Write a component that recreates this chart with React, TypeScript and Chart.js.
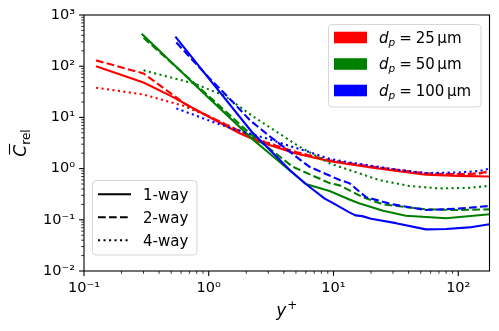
import React, { useEffect, useRef } from 'react';
import { Chart, registerables } from 'chart.js';
Chart.register(...registerables);

// ---- data ----
// d_p = 25 um
const r1X = [0.125, 0.3, 0.5, 1, 1.8, 2.5, 4.9, 9.3, 13.4, 20, 30, 55, 100, 178];
const r1Y = [100, 48, 26, 10.3, 4.8, 3.4, 2.0, 1.4, 1.22, 1.05, 0.92, 0.76, 0.72, 0.7];
const r2X = [0.125, 0.3, 0.45, 0.7, 1, 2.5, 5, 9.3, 20, 55, 100, 150, 178];
const r2Y = [130, 72, 35, 16, 10.5, 3.6, 2.1, 1.45, 1.1, 0.8, 0.78, 0.8, 0.92];
const r4X = [0.125, 0.3, 0.62, 1, 2.5, 5, 9.3, 20, 55, 100, 178];
const r4Y = [38, 28, 17, 10.5, 3.7, 2.1, 1.45, 1.08, 0.8, 0.76, 0.85];
// d_p = 50 um
const g1X = [0.29, 1, 2.29, 3.3, 6, 9.3, 13.4, 16, 25, 38, 80, 178];
const g1Y = [430, 24, 3.6, 1.7, 0.5, 0.365, 0.25, 0.21, 0.15, 0.12, 0.107, 0.128];
const g2X = [0.3, 1, 2.13, 4.7, 9.3, 11.2, 17, 25, 55, 100, 178];
const g2Y = [360, 26, 4.9, 1.09, 0.52, 0.47, 0.28, 0.2, 0.16, 0.155, 0.16];
const g4X = [0.3, 0.76, 1.32, 2.29, 5.3, 9.3, 13.4, 23, 40, 70, 120, 178];
const g4Y = [83, 46, 27, 10.3, 2.7, 1.27, 0.94, 0.6, 0.46, 0.41, 0.42, 0.46];
// d_p = 100 um
const b1X = [0.54, 1, 2.2, 4.5, 6, 8.5, 10, 13.4, 15, 17, 20, 31.7, 55, 80, 122, 178];
const b1Y = [377, 58, 5.3, 0.92, 0.5, 0.26, 0.21, 0.14, 0.122, 0.118, 0.105, 0.086, 0.065, 0.066, 0.071, 0.082];
const b2X = [0.55, 1, 1.56, 2.13, 3, 4.45, 6.4, 11.2, 13.4, 18.3, 30, 55, 100, 178];
const b2Y = [290, 60, 20, 8.9, 4.5, 2.14, 1.09, 0.6, 0.52, 0.275, 0.2, 0.155, 0.165, 0.186];
const b4X = [0.55, 1.15, 2.0, 2.9, 4.2, 6.4, 9.3, 13.4, 30, 55, 100, 150, 178];
const b4Y = [15, 7.7, 5.0, 3.9, 2.9, 2.1, 1.55, 1.32, 0.98, 0.82, 0.84, 0.9, 1.0];

const sizeLabels = ['25', '50', '100'];
const couplingLabels = ['1-way', '2-way', '4-way'];
const xTickPowers = [-1, 0, 1, 2];
const yTickPowers = [-2, -1, 0, 1, 2, 3];

const X_MIN = 0.1, X_MAX = 178, Y_MIN = 0.01, Y_MAX = 1000;

const COLORS = ['#ff0000', '#008000', '#0000ff'];
const DASHES: number[][] = [[], [7.7, 3.3], [2.1, 3.4]];
const FONT = '"DejaVu Sans", sans-serif';

const SUP: Record<string, string> = { '-': '⁻', '0': '⁰', '1': '¹', '2': '²', '3': '³' };
const powLabel = (p: number) => '10' + String(p).split('').map((c) => SUP[c]).join('');

const pts = (xs: number[], ys: number[]) => xs.map((x, i) => ({ x, y: ys[i] }));

const seriesTable = [
  { xs: b1X, ys: b1Y, c: 2, d: 0 },
  { xs: b2X, ys: b2Y, c: 2, d: 1 },
  { xs: b4X, ys: b4Y, c: 2, d: 2 },
  { xs: g1X, ys: g1Y, c: 1, d: 0 },
  { xs: g2X, ys: g2Y, c: 1, d: 1 },
  { xs: g4X, ys: g4Y, c: 1, d: 2 },
  { xs: r1X, ys: r1Y, c: 0, d: 0 },
  { xs: r2X, ys: r2Y, c: 0, d: 1 },
  { xs: r4X, ys: r4Y, c: 0, d: 2 },
];

function roundRect(ctx: CanvasRenderingContext2D, x: number, y: number, w: number, h: number, r: number) {
  ctx.beginPath();
  ctx.moveTo(x + r, y);
  ctx.lineTo(x + w - r, y);
  ctx.quadraticCurveTo(x + w, y, x + w, y + r);
  ctx.lineTo(x + w, y + h - r);
  ctx.quadraticCurveTo(x + w, y + h, x + w - r, y + h);
  ctx.lineTo(x + r, y + h);
  ctx.quadraticCurveTo(x, y + h, x, y + h - r);
  ctx.lineTo(x, y + r);
  ctx.quadraticCurveTo(x, y, x + r, y);
  ctx.closePath();
}

const decor = {
  id: 'decor',
  afterDraw(chart: any) {
    const { ctx, chartArea: a, scales } = chart;
    const xs = scales.x, ys = scales.y;
    ctx.save();
    ctx.setLineDash([]);
    // spines
    ctx.strokeStyle = '#000';
    ctx.lineWidth = 1.1;
    ctx.strokeRect(a.left, a.top, a.right - a.left, a.bottom - a.top);
    // ticks
    const drawTick = (x1: number, y1: number, x2: number, y2: number, w: number) => {
      ctx.lineWidth = w;
      ctx.beginPath();
      ctx.moveTo(x1, y1);
      ctx.lineTo(x2, y2);
      ctx.stroke();
    };
    for (let p = -1; p <= 2; p++) {
      for (let k = 1; k <= 9; k++) {
        const v = k * Math.pow(10, p);
        if (v < X_MIN - 1e-9 || v > X_MAX) continue;
        const px = xs.getPixelForValue(v);
        drawTick(px, a.bottom, px, a.bottom + (k === 1 ? 4.9 : 2.8), k === 1 ? 1.1 : 0.8);
      }
    }
    for (let p = -2; p <= 3; p++) {
      for (let k = 1; k <= 9; k++) {
        const v = k * Math.pow(10, p);
        if (v < Y_MIN - 1e-12 || v > Y_MAX + 1e-9) continue;
        const py = ys.getPixelForValue(v);
        drawTick(a.left, py, a.left - (k === 1 ? 4.9 : 2.8), py, k === 1 ? 1.1 : 0.8);
      }
    }

    // legend 1: particle sizes
    ctx.fillStyle = 'rgba(255,255,255,0.8)';
    roundRect(ctx, 328.5, 24.5, 152.5, 82.5, 3.5);
    ctx.fill();
    ctx.strokeStyle = '#d6d6d6';
    ctx.lineWidth = 1;
    ctx.stroke();
    const rowsY1 = [37.5, 64, 90.5];
    sizeLabels.forEach((lab, i) => {
      const cy = rowsY1[i];
      ctx.fillStyle = COLORS[i];
      ctx.fillRect(334, cy - 5.8, 33, 11.6);
      ctx.fillStyle = '#000';
      ctx.textBaseline = 'alphabetic';
      ctx.textAlign = 'left';
      let x = 379;
      const base = cy + 5.3;
      ctx.font = `italic 15px ${FONT}`;
      ctx.fillText('d', x, base);
      x += ctx.measureText('d').width;
      ctx.font = `italic 10.5px ${FONT}`;
      ctx.fillText('p', x, base + 3);
      x += ctx.measureText('p').width + 4;
      ctx.font = `15px ${FONT}`;
      ctx.fillText('=', x, base);
      x += ctx.measureText('=').width + 4;
      ctx.fillText(lab, x, base);
      x += ctx.measureText(lab).width + 2.5;
      ctx.fillText('μm', x, base);
    });

    // legend 2: coupling
    ctx.fillStyle = 'rgba(255,255,255,0.8)';
    roundRect(ctx, 92.5, 180.5, 104.5, 74.5, 3.5);
    ctx.fill();
    ctx.strokeStyle = '#d6d6d6';
    ctx.lineWidth = 1;
    ctx.stroke();
    const rowsY2 = [194.3, 217.3, 240.3];
    couplingLabels.forEach((lab, i) => {
      const cy = rowsY2[i];
      ctx.strokeStyle = '#000';
      ctx.lineWidth = 2.1;
      ctx.lineCap = 'butt';
      ctx.setLineDash(DASHES[i]);
      ctx.beginPath();
      ctx.moveTo(98, cy);
      ctx.lineTo(131, cy);
      ctx.stroke();
      ctx.setLineDash([]);
      ctx.fillStyle = '#000';
      ctx.font = `15px ${FONT}`;
      ctx.textAlign = 'left';
      ctx.textBaseline = 'alphabetic';
      ctx.fillText(lab, 143, cy + 5.5);
    });

    // x title: y^+
    ctx.fillStyle = '#000';
    ctx.textAlign = 'left';
    ctx.textBaseline = 'alphabetic';
    ctx.font = `italic 17px ${FONT}`;
    const wy = ctx.measureText('y').width;
    ctx.font = `12px ${FONT}`;
    const wp = ctx.measureText('+').width;
    const cx = (a.left + a.right) / 2;
    const x0 = cx - (wy + wp + 1) / 2;
    ctx.font = `italic 17px ${FONT}`;
    ctx.fillText('y', x0, 316);
    ctx.font = `12px ${FONT}`;
    ctx.fillText('+', x0 + wy + 1, 309);

    // y title: overline C, subscript rel
    ctx.translate(26, (a.top + a.bottom) / 2);
    ctx.rotate(-Math.PI / 2);
    ctx.font = `italic 17px ${FONT}`;
    const wC = ctx.measureText('C').width;
    ctx.font = `12px ${FONT}`;
    const wr = ctx.measureText('rel').width;
    const t0 = -(wC + wr) / 2;
    ctx.font = `italic 17px ${FONT}`;
    ctx.fillText('C', t0, 0);
    ctx.lineWidth = 1.1;
    ctx.strokeStyle = '#000';
    ctx.beginPath();
    ctx.moveTo(t0 + 2, -16.5);
    ctx.lineTo(t0 + wC + 1, -16.5);
    ctx.stroke();
    ctx.font = `12px ${FONT}`;
    ctx.fillText('rel', t0 + wC, 4);
    ctx.restore();
  },
};

export default function App() {
  const ref = useRef<HTMLCanvasElement | null>(null);
  useEffect(() => {
    if (!ref.current) return;
    const chart = new Chart(ref.current, {
      type: 'line',
      data: {
        datasets: seriesTable.map((s) => ({
          data: pts(s.xs, s.ys),
          borderColor: COLORS[s.c],
          backgroundColor: COLORS[s.c],
          borderWidth: 2.1,
          borderDash: DASHES[s.d],
          borderCapStyle: 'butt' as const,
          borderJoinStyle: 'round' as const,
          pointRadius: 0,
          tension: 0,
          fill: false,
        })),
      },
      options: {
        animation: false,
        responsive: false,
        events: [],
        layout: { padding: { left: 0, right: 9.5, top: 15, bottom: 0 } },
        plugins: { legend: { display: false }, tooltip: { enabled: false } },
        scales: {
          x: {
            type: 'logarithmic',
            min: X_MIN,
            max: X_MAX,
            grid: { display: false, drawTicks: true, tickLength: 5 },
            border: { display: false },
            afterFit: (sc: any) => { sc.height = 60; },
            ticks: {
              autoSkip: false,
              maxRotation: 0,
              padding: 4,
              color: '#000',
              font: { family: FONT, size: 14.5 },
              callback: (v: any) => {
                const p = Math.log10(Number(v));
                const r = Math.round(p);
                return Math.abs(p - r) < 1e-9 && xTickPowers.includes(r) ? powLabel(r) : '';
              },
            },
          },
          y: {
            type: 'logarithmic',
            min: Y_MIN,
            max: Y_MAX,
            grid: { display: false, drawTicks: true, tickLength: 5 },
            border: { display: false },
            afterFit: (sc: any) => { sc.width = 84; },
            ticks: {
              autoSkip: false,
              padding: 4,
              color: '#000',
              font: { family: FONT, size: 14.5 },
              callback: (v: any) => {
                const p = Math.log10(Number(v));
                const r = Math.round(p);
                return Math.abs(p - r) < 1e-9 && yTickPowers.includes(r) ? powLabel(r) : '';
              },
            },
          },
        },
      },
      plugins: [decor],
    });
    return () => chart.destroy();
  }, []);
  return (
    <div style={{ position: 'fixed', left: 0, top: 0, width: 499, height: 331, background: '#fff' }}>
      <canvas ref={ref} width={499} height={331} style={{ display: 'block', width: 499, height: 331 }} />
    </div>
  );
}
